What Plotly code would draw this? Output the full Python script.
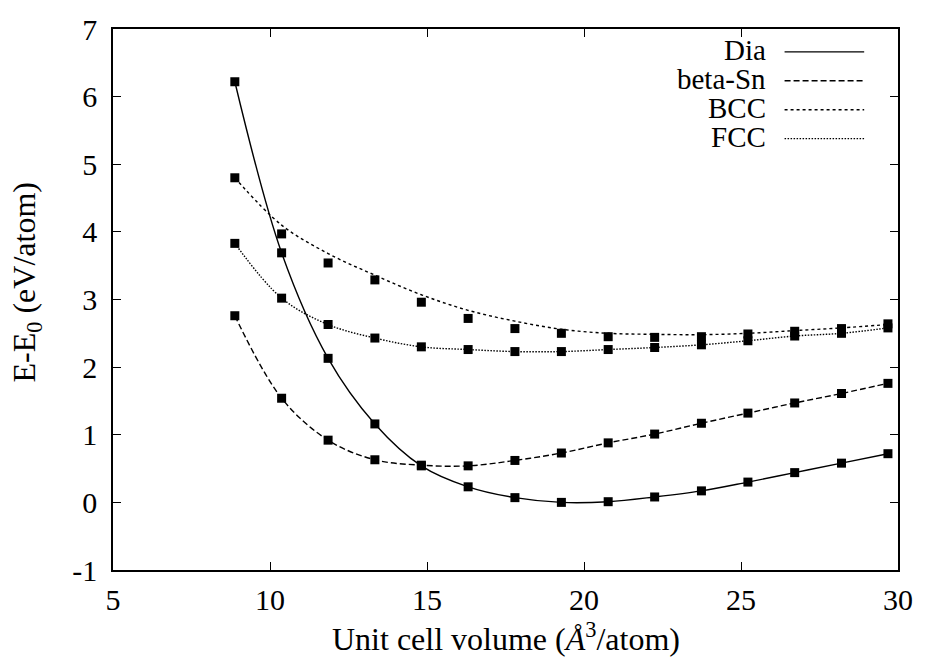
import plotly.graph_objects as go

# ---- data ----
volume = [8.88, 10.37, 11.85, 13.34, 14.82, 16.31, 17.80, 19.28, 20.77, 22.25, 23.74, 25.22, 26.71, 28.20, 29.68]
dia = [6.22, 3.69, 2.13, 1.16, 0.54, 0.23, 0.07, 0.00, 0.01, 0.08, 0.17, 0.30, 0.44, 0.58, 0.72]
beta_sn = [2.76, 1.54, 0.92, 0.63, 0.55, 0.54, 0.62, 0.73, 0.88, 1.01, 1.17, 1.32, 1.47, 1.61, 1.76]
bcc = [4.80, 3.97, 3.54, 3.29, 2.96, 2.72, 2.57, 2.50, 2.45, 2.44, 2.45, 2.49, 2.53, 2.57, 2.64]
fcc = [3.83, 3.02, 2.63, 2.43, 2.30, 2.26, 2.23, 2.23, 2.26, 2.29, 2.33, 2.39, 2.46, 2.50, 2.58]
# fitted curves (as drawn in the reference)
dia_fit = dia
beta_sn_fit = beta_sn
bcc_fit = [4.80, 4.10, 3.68, 3.36, 3.07, 2.84, 2.68, 2.56, 2.50, 2.485, 2.48, 2.50, 2.54, 2.58, 2.63]
fcc_fit = fcc

series_names = ["Dia", "beta-Sn", "BCC", "FCC"]
x_ticks = [5, 10, 15, 20, 25, 30]
x_ticktext = ["5", "10", "15", "20", "25", "30"]
y_ticks = [-1, 0, 1, 2, 3, 4, 5, 6, 7]
y_ticktext = ["-1", "0", "1", "2", "3", "4", "5", "6", "7"]

FONT = "Liberation Serif, Times New Roman, serif"
dashes = ["solid", "6px,3px", "3px,3px", "1.5px,1.5px"]
fits = [dia_fit, beta_sn_fit, bcc_fit, fcc_fit]
points = [dia, beta_sn, bcc, fcc]

W, H = 925, 660
ML, MR, MT, MB = 113, 23, 27, 90
pw = W - ML - MR
ph = H - MT - MB

def px_x(px):
    return (px - ML) / pw

def px_y(py):
    return (H - MB - py) / ph

fig = go.Figure()
for name, fit, dash in zip(series_names, fits, dashes):
    fig.add_trace(go.Scatter(
        x=volume, y=fit, mode="lines", name=name,
        line=dict(color="black", width=1.4, dash=dash, shape="spline", smoothing=1.0),
        showlegend=False, hoverinfo="skip"))
for name, pts in zip(series_names, points):
    fig.add_trace(go.Scatter(
        x=volume, y=pts, mode="markers", name=name,
        marker=dict(symbol="square", size=9, color="black"),
        showlegend=False))

annotations = []
shapes = []
legend_rows = [50, 79, 108, 137]
for name, dash, row in zip(series_names, dashes, legend_rows):
    annotations.append(dict(
        x=px_x(770), y=px_y(row), xref="paper", yref="paper",
        xanchor="right", yanchor="middle", text=name, showarrow=False,
        yshift=2, borderpad=0, font=dict(family=FONT, size=29, color="black")))
    shapes.append(dict(
        type="line", xref="paper", yref="paper",
        x0=px_x(788), x1=px_x(868), y0=px_y(row), y1=px_y(row),
        line=dict(color="black", width=1.4, dash=dash)))

annotations.append(dict(
    x=0.5, y=px_y(637), xref="paper", yref="paper", xanchor="center", yanchor="middle",
    text="Unit cell volume (<i>Å</i><sup>3</sup>/atom)", showarrow=False,
    font=dict(family=FONT, size=32, color="black")))
annotations.append(dict(
    x=px_x(26), y=px_y(281), xref="paper", yref="paper", xanchor="center", yanchor="middle",
    text="E-E<sub>0</sub> (eV/atom)", textangle=-90, showarrow=False,
    font=dict(family=FONT, size=32, color="black")))

axis_common = dict(
    showline=True, linecolor="black", linewidth=1.6, mirror="allticks",
    ticks="inside", ticklen=8, tickwidth=1.2, tickcolor="black",
    showgrid=False, zeroline=False,
    tickfont=dict(family=FONT, size=30, color="black"))

fig.update_layout(
    width=W, height=H,
    margin=dict(l=ML, r=MR, t=MT, b=MB),
    paper_bgcolor="white", plot_bgcolor="white",
    font=dict(family=FONT, color="black"),
    xaxis=dict(range=[5, 30], tickmode="array", tickvals=x_ticks, ticktext=x_ticktext,
               ticklabelstandoff=2, **axis_common),
    yaxis=dict(range=[-1, 7], tickmode="array", tickvals=y_ticks, ticktext=y_ticktext,
               ticklabelstandoff=8, **axis_common),
    annotations=annotations, shapes=shapes, showlegend=False,
)

fig.write_html("out.html")
